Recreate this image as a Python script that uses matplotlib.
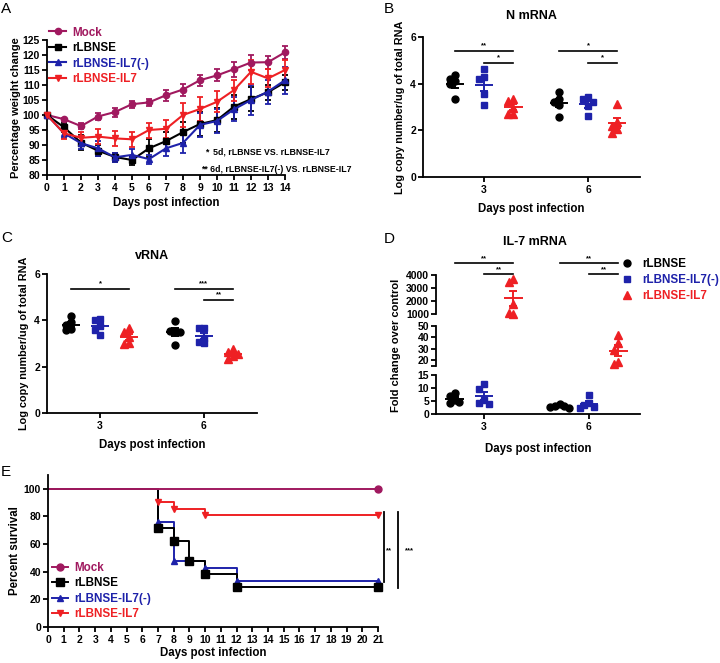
import matplotlib
matplotlib.use('Agg')
import matplotlib.pyplot as plt
import matplotlib.transforms as mtrans
import numpy as np

plt.rcParams['font.family'] = ['Liberation Sans', 'DejaVu Sans']
plt.rcParams['font.weight'] = 'bold'
plt.rcParams['axes.labelweight'] = 'bold'
plt.rcParams['axes.linewidth'] = 1.3
plt.rcParams['xtick.major.width'] = 1.3
plt.rcParams['ytick.major.width'] = 1.3
plt.rcParams['xtick.minor.width'] = 1.3
plt.rcParams['ytick.minor.width'] = 1.3
plt.rcParams['xtick.major.size'] = 3.5
plt.rcParams['ytick.major.size'] = 3.5
plt.rcParams['ytick.minor.size'] = 3.5
plt.rcParams['xtick.labelsize'] = 7.5
plt.rcParams['ytick.labelsize'] = 7.5
plt.rcParams['xtick.major.pad'] = 2
plt.rcParams['ytick.major.pad'] = 1.5

# ---------------- data ----------------
groups = ['Mock', 'rLBNSE', 'rLBNSE-IL7(-)', 'rLBNSE-IL7']
colors = ['#A0195F', '#000000', '#1E22AA', '#EE2024']

# Panel A: weight change
days_a = list(range(15))
w_mock = [100, 98.6, 96.3, 99.5, 101.0, 103.6, 104.2, 106.6, 108.5, 111.6, 113.2, 115.3, 117.5, 117.6, 120.9]
e_mock = [0, 0.5, 1.0, 1.2, 1.5, 1.2, 1.2, 1.8, 2.0, 1.8, 2.0, 2.5, 2.5, 2.2, 2.2]
w_rlb = [100, 95.9, 90.8, 88.1, 86.0, 85.0, 88.9, 91.3, 94.3, 97.0, 98.3, 102.8, 105.3, 107.6, 110.9]
e_rlb = [0, 1.5, 2.5, 1.8, 1.5, 1.5, 3.0, 3.0, 3.5, 4.0, 4.0, 4.0, 4.0, 2.5, 2.5]
w_il7m = [100, 93.9, 90.6, 88.9, 85.9, 86.7, 85.3, 88.9, 90.7, 96.7, 98.0, 101.9, 105.0, 107.8, 111.6]
e_il7m = [0, 1.5, 2.0, 2.5, 1.5, 2.0, 1.5, 2.5, 3.5, 4.0, 4.0, 4.0, 5.0, 4.0, 4.5]
w_il7 = [100, 93.9, 92.4, 92.8, 92.2, 91.9, 95.0, 95.4, 100.0, 102.0, 104.4, 108.3, 114.4, 112.2, 115.0]
e_il7 = [0, 2.0, 2.0, 2.5, 2.5, 2.5, 2.5, 3.0, 4.0, 4.0, 3.5, 3.5, 4.0, 3.0, 3.5]

# Panels B, C, D: [day3 values, day6 values]
xcats = ['3', '6']
nmrna_rlb = [[4.35, 4.22, 4.12, 3.98, 3.35], [3.64, 3.36, 3.20, 3.10, 2.57]]
nmrna_il7m = [[4.63, 4.27, 4.22, 3.55, 3.10], [3.41, 3.36, 3.20, 3.05, 2.60]]
nmrna_il7 = [[3.35, 3.27, 2.95, 2.72, 2.70], [3.12, 2.35, 2.20, 2.07, 1.90]]

vrna_rlb = [[4.17, 3.93, 3.80, 3.62, 3.57], [3.96, 3.55, 3.52, 3.48, 2.95]]
vrna_il7m = [[4.07, 4.00, 3.75, 3.60, 3.36], [3.67, 3.65, 3.25, 3.06, 3.02]]
vrna_il7 = [[3.67, 3.50, 3.30, 3.02, 3.00], [2.75, 2.63, 2.55, 2.45, 2.35]]

il7_rlb = [[8.2, 6.9, 5.4, 4.7, 4.1], [3.9, 3.2, 2.9, 2.7, 2.4]]
il7_il7m = [[11.5, 9.5, 5.4, 4.1, 4.0], [7.4, 4.1, 3.3, 2.6, 2.3]]
il7_il7 = [[3690, 3490, 1800, 1020, 1100], [41.8, 34.5, 29.0, 18.0, 16.5]]

# Panel E: survival
t_mock = [0, 21]
s_mock = [100, 100]
t_rlb = [0, 7, 8, 9, 10, 12, 21]
s_rlb = [100, 71.4, 61.9, 47.6, 38.1, 28.6, 28.6]
t_il7m = [0, 7, 8, 10, 12, 21]
s_il7m = [100, 76.2, 47.6, 42.9, 33.3, 33.3]
t_il7 = [0, 7, 8, 10, 21]
s_il7 = [100, 90.5, 85.7, 81.0, 81.0]

# ---------------- layout ----------------
W, H = 720, 663
fig = plt.figure(figsize=(W / 100, H / 100), dpi=100)


def px_axes(l, t, r, b):
    return fig.add_axes([l / W, 1 - b / H, (r - l) / W, (b - t) / H])


def style(ax):
    ax.spines['top'].set_visible(False)
    ax.spines['right'].set_visible(False)


def panel_letter(x, y, s):
    fig.text(x / W, 1 - y / H, s, fontsize=11, fontweight='normal', va='center', ha='left')


# ---------------- Panel A ----------------
axA = px_axes(47, 40, 285, 175)
style(axA)
markers_a = ['o', 's', '^', 'v']
msz_a = [4.5, 5.0, 4.5, 5]
handles = []
for vals, errs, c, m, ms in zip([w_mock, w_rlb, w_il7m, w_il7], [e_mock, e_rlb, e_il7m, e_il7],
                                colors, markers_a, msz_a):
    cont = axA.errorbar(days_a, vals, yerr=errs, color=c, marker=m, ms=ms, lw=1.5,
                        elinewidth=1.3, capsize=2.5, capthick=1.3, clip_on=False, zorder=3)
    handles.append(cont[0])
axA.set_xlim(0, 14)
axA.set_ylim(80, 125)
axA.set_xticks(days_a)
axA.set_yticks(range(80, 126, 5))
axA.set_xlabel('Days post infection', fontsize=8.3, labelpad=3)
axA.set_ylabel('Percentage weight change', fontsize=8, labelpad=1)
axA.legend(handles, groups, loc='upper left', bbox_to_anchor=(0.01, 1.10), frameon=False,
           fontsize=8.4, labelcolor=colors, handlelength=1.45, handletextpad=0.5,
           labelspacing=0.3, borderpad=0, borderaxespad=0)
axA.text(9.3, 87.7, '*  5d, rLBNSE VS. rLBNSE-IL7', fontsize=6.3, va='center', ha='left')
axA.text(9.05, 81.8, '** 6d, rLBNSE-IL7(-) VS. rLBNSE-IL7', fontsize=6.3, va='center', ha='left',
         clip_on=False)
panel_letter(1, 9, 'A')

# ---------------- helpers for dot plots ----------------
off = [-0.28, 0.0, 0.28]
dot_markers = ['o', 's', '^']
dot_ms = [5, 5, 5.5]
dot_colors = colors[1:]


def swarm(vals, thr, step):
    placed = []
    xs = []
    for v in vals:
        chosen = 0.0
        for cand in [0.0, -step, step, -2 * step, 2 * step]:
            ok = all(abs(v - pv) >= thr or abs(cand - px) >= step * 0.99 for pv, px in placed)
            if ok:
                chosen = cand
                break
        placed.append((v, chosen))
        xs.append(chosen)
    return xs


def dot_panel(axes, series, thr):
    hs = []
    for si, (data, c, m, ms) in enumerate(zip(series, dot_colors, dot_markers, dot_ms)):
        for gi, vals in enumerate(data):
            x0 = gi + off[si]
            mean = np.mean(vals)
            sem = np.std(vals, ddof=1) / np.sqrt(len(vals))
            for ax in axes:
                lo, hi = ax.get_ylim()
                sel = [(v, dx) for v, dx in zip(vals, swarm(vals, thr(ax), 0.045)) if lo <= v <= hi]
                if sel:
                    h, = ax.plot([x0 + dx for v, dx in sel], [v for v, dx in sel], ls='none',
                                 marker=m, ms=ms, color=c, mec=c, zorder=3, clip_on=False)
                else:
                    h, = ax.plot([], [], ls='none', marker=m, ms=ms, color=c, mec=c)
                if lo <= mean <= hi:
                    ax.hlines(mean, x0 - 0.09, x0 + 0.09, color=c, lw=1.4, zorder=4)
                    ax.errorbar([x0], [mean], yerr=[sem], fmt='none', ecolor=c, elinewidth=1.4,
                                capsize=3.2, capthick=1.4, zorder=4)
                if gi == 0 and ax is axes[-1]:
                    hs.append(h)
    return hs


def sig(ax, x1, x2, y, s, trans=None, dy=0.12):
    kw = {}
    if trans is not None:
        kw['transform'] = trans
    ax.plot([x1, x2], [y, y], color='k', lw=1.2, clip_on=False, **kw)
    ax.text((x1 + x2) / 2, y + dy, s, ha='center', va='bottom', fontsize=5.5, clip_on=False, **kw)


# ---------------- Panel B ----------------
axB = px_axes(423, 37, 640, 177)
style(axB)
axB.set_xlim(-0.587, 1.5)
axB.set_ylim(0, 6)
dot_panel([axB], [nmrna_rlb, nmrna_il7m, nmrna_il7], thr=lambda ax: 0.22)
axB.set_yticks([0, 2, 4, 6])
axB.set_xticks([0, 1])
axB.set_xticklabels(xcats)
axB.set_xlabel('Days post infection', fontsize=8.3, labelpad=6)
axB.set_ylabel('Log copy number/ug of total RNA', fontsize=7.8, labelpad=4)
axB.set_title('N mRNA', fontsize=9, fontweight='bold', pad=13)
sig(axB, off[0], off[2], 5.41, '**', dy=0.08)
sig(axB, off[1], off[2], 4.90, '*', dy=0.08)
sig(axB, 1 + off[0], 1 + off[2], 5.41, '*', dy=0.08)
sig(axB, 1 + off[1], 1 + off[2], 4.90, '*', dy=0.08)
panel_letter(384, 9, 'B')

# ---------------- Panel C ----------------
axC = px_axes(47, 274, 257, 413)
style(axC)
axC.set_xlim(-0.51, 1.51)
axC.set_ylim(0, 6)
dot_panel([axC], [vrna_rlb, vrna_il7m, vrna_il7], thr=lambda ax: 0.22)
axC.set_yticks([0, 2, 4, 6])
axC.set_xticks([0, 1])
axC.set_xticklabels(xcats)
axC.set_xlabel('Days post infection', fontsize=8.3, labelpad=6)
axC.set_ylabel('Log copy number/ug of total RNA', fontsize=7.8, labelpad=4)
axC.set_title('vRNA', fontsize=9, fontweight='bold', pad=11)
sig(axC, off[0], off[2], 5.36, '*', dy=0.08)
sig(axC, 1 + off[0], 1 + off[2], 5.36, '***', dy=0.08)
sig(axC, 1 + off[1], 1 + off[2], 4.89, '**', dy=0.08)
panel_letter(1, 238, 'C')

# ---------------- Panel D (broken axis) ----------------
axDt = px_axes(436, 275, 640, 314)
axDm = px_axes(436, 325.7, 640, 365.7)
axDb = px_axes(436, 375, 640, 414)
for ax in (axDt, axDm, axDb):
    style(ax)
    ax.set_xlim(-0.457, 1.486)
for ax in (axDt, axDm):
    ax.spines['bottom'].set_visible(False)
    ax.tick_params(axis='x', bottom=False, labelbottom=False)
axDt.set_ylim(1000, 4000)
axDm.set_ylim(15, 50)
axDb.set_ylim(0, 15)
hD = dot_panel([axDt, axDm, axDb], [il7_rlb, il7_il7m, il7_il7],
               thr=lambda ax: 0.18 * (ax.get_ylim()[1] - ax.get_ylim()[0]))
axDt.set_yticks([1000, 2000, 3000, 4000])
axDm.set_yticks([20, 30, 40, 50])
axDm.set_yticks([15], minor=True)
axDb.set_yticks([0, 5, 10, 15])
axDb.set_xticks([0, 1])
axDb.set_xticklabels(xcats)
axDb.set_xlabel('Days post infection', fontsize=8.3, labelpad=8)
fig.text(396 / W, 1 - 345 / H, 'Fold change over control', rotation=90, fontsize=8,
         ha='center', va='center', fontweight='bold')
fig.text(535 / W, 1 - 242 / H, 'IL-7 mRNA', fontsize=9, fontweight='bold', ha='center', va='center')
tD = mtrans.blended_transform_factory(axDt.transData, axDt.transAxes)
sig(axDt, off[0], off[2], 1.31, '**', trans=tD, dy=0.02)
sig(axDt, off[1], off[2], 1.03, '**', trans=tD, dy=0.02)
sig(axDt, 1 + off[0], 1 + off[2], 1.31, '**', trans=tD, dy=0.02)
sig(axDt, 1 + off[1], 1 + off[2], 1.03, '**', trans=tD, dy=0.02)
fig.legend(hD, groups[1:], loc='upper left', bbox_to_anchor=(621 / W, 1 - 258 / H), frameon=False,
           fontsize=8.4, labelcolor=dot_colors, handlelength=1.0, handletextpad=0.8,
           labelspacing=0.35, borderpad=0, borderaxespad=0)
panel_letter(384, 239, 'D')

# ---------------- Panel E ----------------
axE = px_axes(48, 475, 378, 627)
style(axE)
surv = [(t_il7, s_il7), (t_il7m, s_il7m), (t_rlb, s_rlb), (t_mock, s_mock)]
surv_colors = [colors[3], colors[2], colors[1], colors[0]]
surv_markers = ['v', '^', 's', 'o']
surv_ms = [5, 4.8, 5.5, 5]
hE = {}
for (t, s), c, m, ms, name in zip(surv, surv_colors, surv_markers, surv_ms, groups[::-1]):
    axE.step(t, s, where='post', color=c, lw=1.4, clip_on=False, zorder=2)
    axE.plot(t[1:], s[1:], ls='none', marker=m, ms=ms, color=c, clip_on=False, zorder=3)
    h, = axE.plot([], [], color=c, marker=m, ms=ms, lw=1.4)
    hE[name] = h
axE.set_xlim(0, 21)
axE.set_ylim(0, 110)
axE.set_xticks(range(22))
axE.set_yticks(range(0, 101, 20))
axE.set_xlabel('Days post infection', fontsize=8.3, labelpad=2)
axE.set_ylabel('Percent survival', fontsize=8.3, labelpad=2)
axE.legend([hE[g] for g in groups], groups, loc='upper left', bbox_to_anchor=(0.012, 0.43),
           frameon=False, fontsize=8.4, labelcolor=colors, handlelength=1.4, handletextpad=0.55,
           labelspacing=0.3, borderpad=0, borderaxespad=0)
axE.plot([21.4, 21.4], [83.2, 32.8], color='k', lw=1.3, clip_on=False)
axE.plot([22.3, 22.3], [83.2, 28.5], color='k', lw=1.3, clip_on=False)
axE.text(21.72, 55, '**', fontsize=5.5, ha='center', va='center', clip_on=False)
axE.text(23.0, 55, '***', fontsize=5.5, ha='center', va='center', clip_on=False)
panel_letter(1, 472, 'E')

fig.savefig('out.png', dpi=100)
